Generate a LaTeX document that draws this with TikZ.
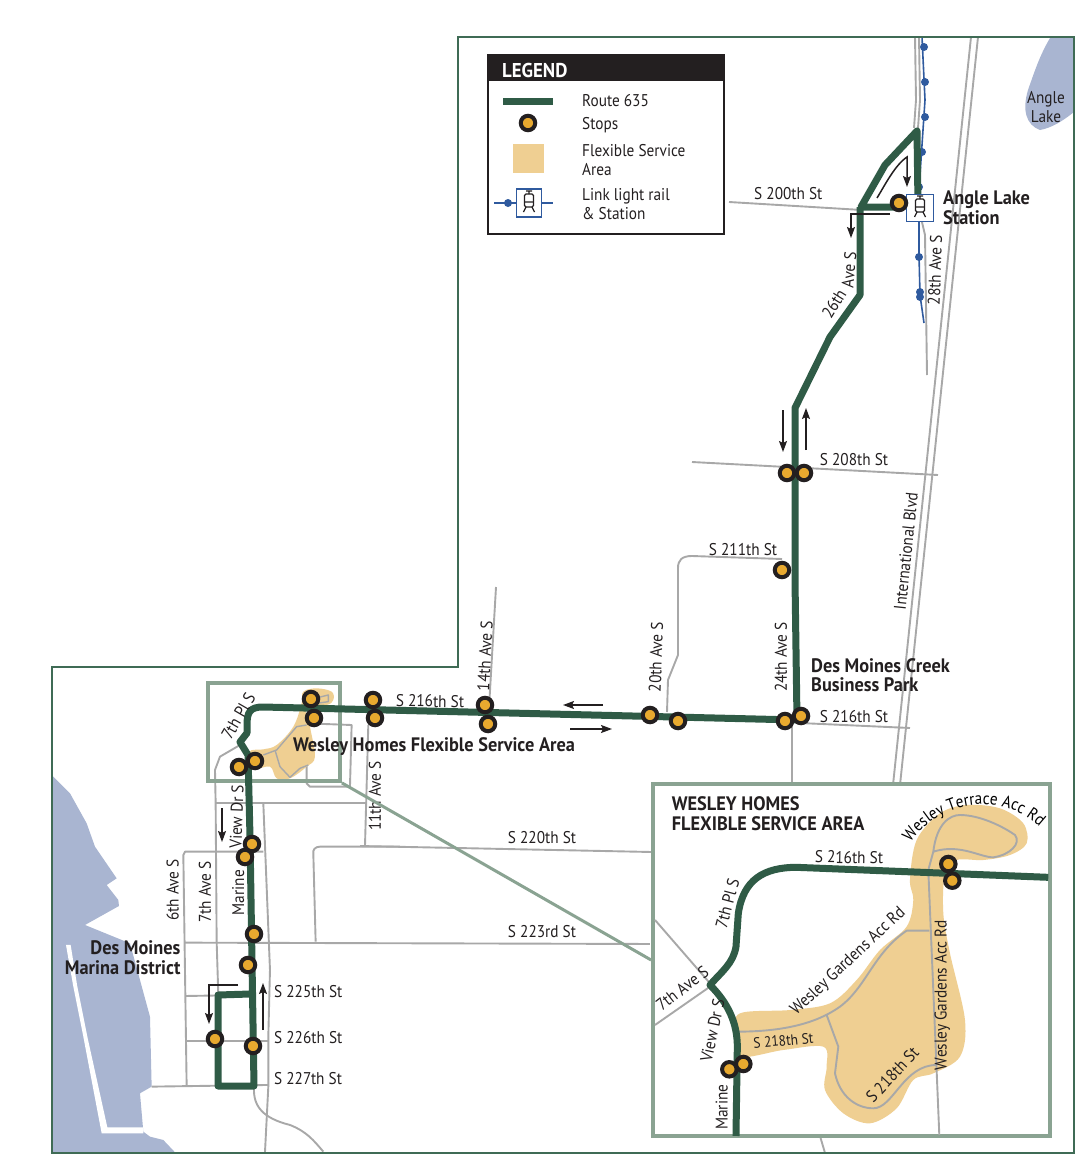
\documentclass[tikz,border=0pt]{standalone}
\usepackage{fontspec}
\setmainfont[FakeStretch=0.9,BoldFeatures={FakeStretch=0.94}]{PT Sans}
\usetikzlibrary{
        arrows.meta,
        decorations.text,
        positioning
    }
\definecolor{framegreen}{HTML}{3F6B55}
\definecolor{routegreen}{HTML}{2F5B46}
\definecolor{insetgreen}{HTML}{8AA392}
\definecolor{waterblue}{HTML}{A9B5D1}
\definecolor{roadgray}{HTML}{A8A8A8}
\definecolor{flexsand}{HTML}{EFCF92}
\definecolor{stopgold}{HTML}{E8A92F}
\definecolor{stopblack}{HTML}{231F20}
\definecolor{railblue}{HTML}{2F5A9E}
\tikzset{>={Stealth[length=11pt,width=8pt,inset=2pt]},x=1pt,y=-1pt}
\tikzset{zoomed/.style={shift={#1},x=0.3333pt,y=-0.3333pt}}
\tikzset{road/.style={draw=roadgray,line width=1.9pt,line join=round}}
\tikzset{route/.style={draw=routegreen,line width=7pt,line join=round}}
\tikzset{stop/.style={circle,fill=stopgold,draw=stopblack,line width=4pt,minimum size=14.5pt,inner sep=0pt}}
\tikzset{flow/.style={draw=stopblack,line width=1.5pt,->}}
\tikzset{insetbox/.style={draw=insetgreen,line width=3.8pt}}
\tikzset{raildot/.style={circle,fill=railblue,minimum size=8pt,inner sep=0pt}}
\tikzset{street/.style={font=\fontsize{17}{19}\selectfont,inner sep=0pt,text=stopblack}}
\tikzset{place/.style={font=\fontsize{19.5}{19.5}\selectfont\bfseries,inner sep=0pt,text=stopblack,align=left}}
\tikzset{
    tram/.pic={
        \draw[stopblack,line width=1.2pt,rounded corners=1.5pt] (-4.5,-7) rectangle (4.5,6);
        \draw[stopblack,line width=1.2pt] (-4.5,1) -- (4.5,1) (-3,-10) -- (3,-10) (0,-10) -- (0,-7) (-3,6) -- (-5.5,11) (3,6) -- (5.5,11);
    }
}

\begin{document}
\begin{tikzpicture}
    \useasboundingbox (0,0) rectangle (1092,1170);

    \fill[waterblue] (1074,38) -- (1050,38) .. controls (1040,55) and (1035,70) .. (1028,90) .. controls (1022,110) and (1026,125) .. (1040,130) .. controls (1052,128) and (1064,120) .. (1074,112) -- cycle;

    \begin{scope}[zoomed={(50,670)}]
        \fill[waterblue] (8,318) -- (60,370) -- (110,460) -- (135,530) -- (200,625) -- (170,645) -- (205,690) -- (207,708) -- (105,765) -- (240,820) -- (300,1040) -- (305,1250) -- (270,1270) -- (280,1385) -- (300,1400) -- (340,1410) -- (375,1447) -- (8,1447) -- cycle;
        \fill[white] (48,825) -- (62,825) -- (82,950) -- (112,1100) -- (172,1372) -- (280,1372) -- (280,1390) -- (155,1390) -- (100,1100) -- (70,950) -- cycle;

        \draw[road] (955,165) -- (945,530);
        \draw[road] (570,225) -- (510,260) -- (495,300) -- (497,400) -- (500,815) -- (505,975);
        \draw[road] (497,400) -- (945,400);
        \draw[road] (640,400) -- (660,900) -- (655,1100) -- (655,1250) -- (645,1447);
        \draw[road] (640,545) -- (405,545) -- (400,555) -- (410,1250);
        \draw[road] (1050,530) -- (810,530) .. controls (795,530) and (788,540) .. (790,550) -- (797,815);
        \draw[road] (405,818) -- (1800,822);
        \draw[road] (408,978) -- (600,975);
        \draw[road] (408,1112) -- (655,1112);
        \draw[road] (305,1250) -- (655,1245);
        \draw[road] (612,1255) .. controls (610,1310) and (640,1345) .. (720,1365) .. controls (770,1385) and (790,1410) .. (820,1445);
        \draw[road] (770,160) -- (905,165) -- (900,350) -- (780,350) -- (770,340) -- cycle;
        \fill[flexsand] plot[smooth cycle,tension=0.6] coordinates {(598,245) (640,238) (680,225) (730,170) (755,100) (760,65) (800,55) (845,65) (850,90) (830,105) (770,110) (780,170) (795,260) (770,290) (720,325) (680,325) (660,290) (610,295)};
        \draw[road,line width=1.4pt] (640,255) -- (680,240) -- (740,170) -- (770,165);
        \draw[road,line width=1.4pt] (675,240) -- (690,290) -- (720,322) -- (750,295) -- (775,285);
        \draw[road,line width=1.4pt] (795,85) -- (835,75) -- (835,95) -- (800,100);
    \end{scope}

    \draw[road] (729,202) -- (862,210);
    \draw[road] (915,37) -- (916,100) -- (914,128) (919,37) -- (920,100) -- (918,128);
    \draw[road] (918,205) -- (925,235) -- (927,375);
    \draw[road] (862,205) -- (885,165) -- (915,135);
    \draw[road] (971,37) -- (893,785);
    \draw[road] (978,37) -- (900,785);
    \draw[road] (692,462) -- (938,475);
    \draw[road] (782,559) -- (692,556) .. controls (682,556) and (678,560) .. (678,568) -- (678,655) -- (668,680) -- (667,712);
    \draw[road] (496,587) -- (488,725);
    \draw[road] (792,725) -- (792,785);
    \draw[road] (800,723) -- (910,728);
    \draw[road] (652,852) -- (360,846);
    \draw[road] (820,1136) -- (825,1153);

    \node[insetbox,minimum width=132pt,minimum height=98pt,inner sep=0pt] (smallbox) at (274,732) {};

    \draw[railblue,line width=1.6pt] (922,37) -- (925,100) -- (919,190) -- (919,255) -- (920,295) -- (924,323);
    \node[raildot] (rail1) at (924,47) {};
    \node[raildot] (rail2) at (925,82) {};
    \node[raildot] (rail3) at (925,117) {};
    \node[raildot] (rail4) at (922,152) {};
    \node[raildot] (rail5) at (919,187) {};
    \node[raildot] (rail6) at (919,257) {};
    \node[raildot] (rail7) at (920,292) {};
    \node[raildot] (rail8) at (920,297) {};

    \draw[route] (899,207) -- (861,207) -- (885,165) -- (917,131) -- (918,205);
    \draw[route] (860,207) -- (860,295) -- (830,337) -- (795,408) -- (795,580) -- (797,720) -- (263,707) .. controls (250,707) and (247,712) .. (247,725) -- (247,733) -- (240,742) -- (248,755) -- (250,837) -- (254,1086) -- (218,1086) -- (218,995) -- (250,994);

    \node[draw=railblue,fill=white,line width=1.5pt,minimum width=27pt,minimum height=27pt,inner sep=0pt] (station) at (920,208) {};
    \pic at (920,206) {tram};

    \draw[flow] (877,198) .. controls (885,185) and (895,165) .. (907,157) -- (907,187);
    \draw[flow] (890,214) -- (851,214) -- (851,238);
    \draw[flow] (783,410) -- (783,452);
    \draw[flow] (806,450) -- (806,408);
    \draw[flow] (603,705) -- (563,705);
    \draw[flow] (570,729) -- (612,729);
    \draw[flow] (222,808) -- (222,842);
    \draw[flow] (238,985) -- (209,985) -- (209,1024);
    \draw[flow] (263,1030) -- (263,983);

    \node[stop] (st1) at (899,203) {};
    \node[stop] (st2) at (787,473) {};
    \node[stop] (st3) at (804,473) {};
    \node[stop] (st4) at (782,570) {};
    \node[stop] (st5) at (801,716) {};
    \node[stop] (st6) at (785,721) {};
    \node[stop] (st7) at (678,721) {};
    \node[stop] (st8) at (650,715) {};
    \node[stop] (st9) at (488,724) {};
    \node[stop] (st10) at (485,705) {};
    \node[stop] (st11) at (375,718) {};
    \node[stop] (st12) at (373,700) {};
    \node[stop] (st13) at (314,718) {};
    \node[stop] (st14) at (311,699) {};
    \node[stop] (st15) at (255,761) {};
    \node[stop] (st16) at (239,767) {};
    \node[stop] (st17) at (252,844) {};
    \node[stop] (st18) at (245,857) {};
    \node[stop] (st19) at (254,934) {};
    \node[stop] (st20) at (248,965) {};
    \node[stop] (st21) at (215,1039) {};
    \node[stop] (st22) at (253,1046) {};

    \node[street,anchor=west] (l200) at (754,194) {S 200th St};
    \node[street,rotate=58] (l26a) at (834,304) {26th};
    \node[street,rotate=85] (l26b) at (849,270) {Ave S};
    \node[street,rotate=88] (l28) at (935,270) {28th Ave S};
    \node[street,align=center] (llake) at (1046,107) {Angle\\Lake};
    \node[place,anchor=west] (lstation) at (943,208) {Angle Lake\\Station};
    \node[street] (l208) at (854,460) {S 208th St};
    \node[street] (l211) at (743,550) {S 211th St};
    \node[street,rotate=84] (lintl) at (906,551) {International Blvd};
    \node[street,rotate=90] (l24) at (781,657) {24th Ave S};
    \node[street,rotate=88] (l20) at (656,657) {20th Ave S};
    \node[street,rotate=87] (l14) at (485,656) {14th Ave S};
    \node[place,anchor=west] (lcreek) at (811,675) {Des Moines Creek\\Business Park};
    \node[street] (l216a) at (854,717) {S 216th St};
    \node[street,rotate=-1] (l216b) at (430,701) {S 216th St};
    \node[place] (lwesley) at (434,747) {Wesley Homes Flexible Service Area};
    \node[street] (l220) at (542,838) {S 220th St};
    \node[street] (l223) at (542,932) {S 223rd St};
    \begin{scope}[zoomed={(50,670)}]
        \node[street,rotate=60] (l7pl) at (565,138) {7th Pl S};
        \node[street,rotate=88] (lview) at (560,440) {View Dr S};
        \node[street,rotate=90] (lmarine) at (565,668) {Marine};
        \node[street,rotate=90] (l6) at (368,660) {6th Ave S};
        \node[street,rotate=90] (l7) at (465,665) {7th Ave S};
        \node[street,rotate=90] (l11) at (975,378) {11th Ave S};
        \node[place,anchor=east,align=right] (lmarina) at (392,863) {Des Moines\\Marina District};
        \node[street,anchor=west] (l225) at (672,965) {S 225th St};
        \node[street,anchor=west] (l226) at (672,1102) {S 226th St};
        \node[street,anchor=west] (l227) at (672,1225) {S 227th St};
    \end{scope}

    % inset
    \node[insetbox,fill=white,minimum width=397pt,minimum height=352pt,inner sep=0pt] (insetframe) at (851.5,960) {};
    \draw[insetgreen,line width=3pt] (smallbox.south east) -- (insetframe.west);
    \begin{scope}[zoomed={(650,780)}]
        \fill[flexsand] plot[smooth cycle,tension=0.55] coordinates {(270,700) (420,690) (540,670) (620,600) (690,510) (770,440) (790,360) (780,300) (800,180) (870,100) (950,75) (1050,85) (1120,130) (1130,190) (1080,225) (1000,240) (920,240) (885,280) (880,400) (900,520) (945,720) (930,830) (850,880) (790,900) (740,985) (660,1030) (580,1000) (525,930) (530,860) (520,800) (400,810) (270,830) (258,760)};
        \draw[road] (15,420) -- (180,610);
        \draw[road] (15,735) -- (180,620);
        \draw[road] (262,755) .. controls (400,755) and (500,730) .. (570,680) .. controls (650,620) and (670,520) .. (770,452) -- (838,452);
        \draw[road] (530,705) -- (565,800) -- (555,880) .. controls (570,950) and (620,985) .. (670,985) .. controls (730,985) and (760,855) .. (860,855);
        \draw[road] (835,270) -- (868,1065);
        \draw[road] (835,270) -- (850,215) .. controls (860,130) and (900,105) .. (930,105) .. controls (990,105) and (1060,140) .. (1095,165) .. controls (1115,190) and (1080,225) .. (1030,232) .. controls (990,232) and (930,190) .. (850,215);
        \draw[route] (1195,292) -- (440,262) .. controls (340,262) and (280,300) .. (265,400) -- (258,500) .. controls (250,550) and (215,575) .. (180,615) .. controls (235,670) and (262,730) .. (262,800) -- (258,1068);
        \node[stop] (st23) at (895,252) {};
        \node[stop] (st24) at (907,302) {};
        \node[stop] (st25) at (280,852) {};
        \node[stop] (st26) at (238,868) {};
        \node[place,anchor=west] (linset) at (65,101) {WESLEY HOMES\\FLEXIBLE SERVICE AREA};
        \node[street,rotate=-1] (i216) at (597,232) {S 216th St};
        \node[street,rotate=75] (i7pl) at (232,370) {7th Pl S};
        \node[street,rotate=38] (i7) at (97,625) {7th Ave S};
        \node[street,rotate=78] (iview) at (187,752) {View Dr S};
        \node[street,rotate=90] (imarine) at (215,982) {Marine};
        \node[street,rotate=43] (igard) at (595,545) {Wesley Gardens Acc Rd};
        \node[street,rotate=5,font=\fontsize{15}{18}\selectfont] (i218a) at (400,782) {S 218th St};
        \node[street,rotate=47] (i218b) at (727,885) {S 218th St};
        \node[street,rotate=90] (igardb) at (877,645) {Wesley Gardens Acc Rd};
        \path[decorate,decoration={text along path,text align=center,text={|\fontsize{17}{19}\selectfont|Wesley Terrace Acc Rd}}] (775,198) .. controls (860,58) and (1060,28) .. (1178,150);
    \end{scope}

    % legend
    \node[draw=stopblack,fill=white,line width=1.4pt,minimum width=236pt,minimum height=179pt,inner sep=0pt] (legendbox) at (606,144.5) {};
    \node[fill=stopblack,minimum width=236pt,minimum height=26pt,inner sep=0pt] (legendhead) at (606,68) {};
    \node[place,text=white,anchor=west,font=\fontsize{20}{20}\selectfont\bfseries] (legendtitle) at (502,70) {LEGEND};
    \draw[route] (503,101) -- (553,101);
    \node[stop] (legendstop) at (528,123) {};
    \fill[flexsand] (513,144) rectangle (544,173);
    \draw[railblue,line width=1.6pt] (494,203) -- (553,203);
    \node[raildot] (legenddot) at (508,203) {};
    \node[draw=railblue,fill=white,line width=1.5pt,minimum width=25pt,minimum height=28pt,inner sep=0pt] (legendstation) at (529,203) {};
    \pic at (529,201) {tram};
    \node[street,anchor=west] (legend1) at (582,101) {Route 635};
    \node[street,anchor=west] (legend2) at (582,125) {Stops};
    \node[street,anchor=west,align=left] (legend3) at (582,160) {Flexible Service\\Area};
    \node[street,anchor=west,align=left] (legend4) at (582,204) {Link light rail\\\& Station};

    \draw[framegreen,line width=1.7pt] (458,37) -- (1074,37) -- (1074,1153) -- (52,1153) -- (52,667) -- (458,667) -- cycle;
\end{tikzpicture}
\end{document}
